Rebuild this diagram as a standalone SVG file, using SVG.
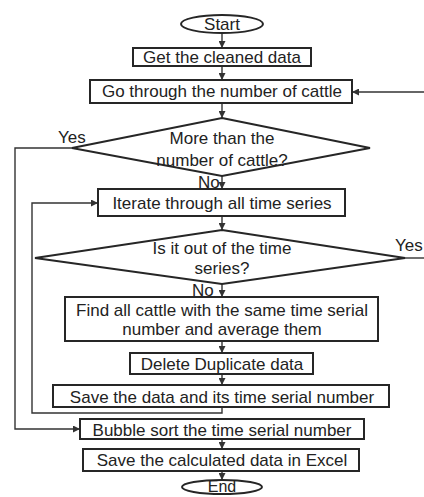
<svg xmlns="http://www.w3.org/2000/svg" width="424" height="497" viewBox="0 0 424 497">
<style>
.n{fill:#fff;stroke:#262626;stroke-width:2}
.t{font-family:"Liberation Sans",Arial,sans-serif;font-size:17px;fill:#222;text-anchor:middle}
.l{font-family:"Liberation Sans",Arial,sans-serif;font-size:17px;fill:#222}
.c{fill:none;stroke:#333;stroke-width:1.4}
</style>
<defs>
<marker id="a" viewBox="0 0 10 10" refX="10" refY="5" markerWidth="7" markerHeight="7" markerUnits="userSpaceOnUse" orient="auto">
<path d="M0,0 L10,5 L0,10 z" fill="#333"/>
</marker>
</defs>
<rect width="424" height="497" fill="#fff"/>
<g id="connectors">
<line class="c" x1="222" y1="33" x2="222" y2="48" marker-end="url(#a)"/>
<line class="c" x1="222" y1="66" x2="222" y2="80" marker-end="url(#a)"/>
<line class="c" x1="222" y1="103" x2="222" y2="118" marker-end="url(#a)"/>
<line class="c" x1="222" y1="176" x2="222" y2="189" marker-end="url(#a)"/>
<line class="c" x1="222" y1="216" x2="222" y2="230" marker-end="url(#a)"/>
<line class="c" x1="222" y1="284" x2="222" y2="297" marker-end="url(#a)"/>
<line class="c" x1="222" y1="341" x2="222" y2="353" marker-end="url(#a)"/>
<line class="c" x1="222" y1="374" x2="222" y2="385" marker-end="url(#a)"/>
<line class="c" x1="222" y1="439" x2="222" y2="449" marker-end="url(#a)"/>
<line class="c" x1="222" y1="471" x2="222" y2="480" marker-end="url(#a)"/>
<polyline class="c" points="72,148 15,148 15,429 80,429" marker-end="url(#a)"/>
<polyline class="c" points="222,407 222,413 32,413 32,203 98,203" marker-end="url(#a)"/>
<line class="c" x1="405" y1="258" x2="424" y2="258"/>
<line class="c" x1="424" y1="92" x2="352" y2="92" marker-end="url(#a)"/>
<text class="l" x="58" y="143">Yes</text>
<text class="l" x="198" y="188">No</text>
<text class="l" x="395" y="251">Yes</text>
<text class="l" x="192" y="296">No</text>
</g>
<g id="start"><ellipse class="n" cx="222" cy="24" rx="41" ry="9"/><text class="t" x="222" y="30">Start</text></g>
<g id="get-data"><rect class="n" x="133" y="48" width="178" height="18"/><text class="t" x="222" y="63">Get the cleaned data</text></g>
<g id="go-through"><rect class="n" x="90" y="80" width="262" height="23"/><text class="t" x="222" y="97">Go through the number of cattle</text></g>
<g id="more-than"><polygon class="n" points="222,118 370,148 222,176 72,148"/><text class="t" x="222" y="144">More than the</text><text class="t" x="222" y="166">number of cattle?</text></g>
<g id="iterate"><rect class="n" x="98" y="189" width="247" height="27"/><text class="t" x="222" y="209">Iterate through all time series</text></g>
<g id="out-of-series"><polygon class="n" points="222,230 405,258 222,284 35,258"/><text class="t" x="222" y="254">Is it out of the time</text><text class="t" x="222" y="274">series?</text></g>
<g id="find-average"><rect class="n" x="65" y="297" width="313" height="44"/><text class="t" x="222" y="316">Find all cattle with the same time serial</text><text class="t" x="222" y="335">number and average them</text></g>
<g id="delete"><rect class="n" x="130" y="353" width="183" height="21"/><text class="t" x="222" y="370">Delete Duplicate data</text></g>
<g id="save-data"><rect class="n" x="53" y="385" width="336" height="22"/><text class="t" x="222" y="403">Save the data and its time serial number</text></g>
<g id="bubble-sort"><rect class="n" x="80" y="419" width="284" height="20"/><text class="t" x="222" y="436">Bubble sort the time serial number</text></g>
<g id="save-excel"><rect class="n" x="83" y="449" width="276" height="22"/><text class="t" x="222" y="466">Save the calculated data in Excel</text></g>
<g id="end"><ellipse class="n" cx="222" cy="487" rx="40" ry="7"/><text class="t" x="222" y="492" style="font-size:16px">End</text></g>
</svg>
